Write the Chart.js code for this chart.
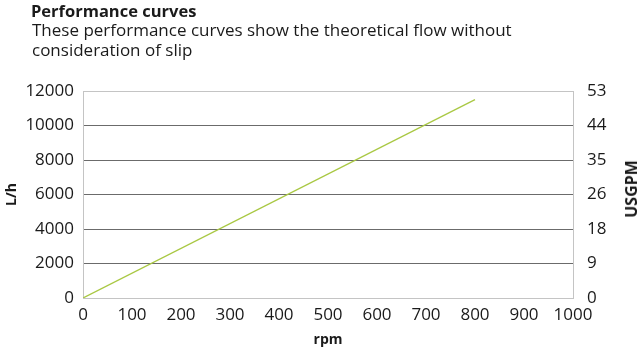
<!DOCTYPE html>
<html>
<head>
<meta charset="utf-8">
<script src="https://cdn.jsdelivr.net/npm/chart.js@4/dist/chart.umd.min.js"></script>
<style>
  html, body { margin: 0; padding: 0; background: #fff; }
  #wrap { position: relative; width: 644px; height: 351px; font-family: "Open Sans", sans-serif; color: #1a1a1a; }
  #title { position: absolute; left: 31px; top: -1px; font-size: 16.5px; font-weight: bold; }
  #sub { position: absolute; left: 32px; top: 20px; font-size: 17px; line-height: 20px; width: 560px; }
  #usgpm { position: absolute; left: 631px; top: 189px; font-size: 16px; font-weight: bold;
           transform: translate(-50%, -50%) rotate(-90deg); white-space: nowrap; }
  canvas { position: absolute; left: 0; top: 0; }
</style>
</head>
<body>
<div id="wrap">
  <canvas id="myChart" width="644" height="351"></canvas>
  <div id="title">Performance curves</div>
  <div id="sub">These performance curves show the theoretical flow without<br>consideration of slip</div>
  <div id="usgpm">USGPM</div>
</div>
<script>
"strict mode";

// values
const rpm = [0, 800];
const flowLh = [0, 11500];
const rpmTicks = [0, 100, 200, 300, 400, 500, 600, 700, 800, 900, 1000];
const lhTicks = [0, 2000, 4000, 6000, 8000, 10000, 12000];
const usgpmTicks = [0, 9, 18, 26, 35, 44, 53];

const textColor = "#1a1a1a";
const frameColor = "#c4c4c4";
const gridColor = "#6b6b6b";
const tickFont = { family: "Open Sans", size: 17 };
const titleFont = { family: "Open Sans", size: 14, weight: "bold" };

const points = rpm.map((r, i) => ({ x: r, y: flowLh[i] }));

const canvas = document.getElementById("myChart");

const chart = new Chart(canvas, {
  type: "scatter",
  data: {
    datasets: [
      {
        data: points,
        showLine: true,
        borderColor: "#a9c843",
        borderWidth: 1.3,
        pointRadius: 0,
        yAxisID: "y",
      },
    ],
  },
  options: {
    responsive: false,
    animation: false,
    layout: { padding: { top: 91, left: 0, right: 0, bottom: 0 } },
    plugins: {
      legend: { display: false },
      tooltip: { enabled: false },
    },
    scales: {
      x: {
        type: "linear",
        min: rpmTicks[0],
        max: rpmTicks[rpmTicks.length - 1],
        afterBuildTicks: (s) => { s.ticks = rpmTicks.map((v) => ({ value: v })); },
        afterFit: (s) => { s.height = 53; },
        grid: { display: false, drawTicks: false },
        border: { color: frameColor },
        ticks: { color: textColor, font: tickFont, padding: 7, maxRotation: 0, callback: (v) => String(v) },
        title: { display: true, text: "rpm", color: textColor, font: titleFont, padding: { top: 0, bottom: 3 } },
      },
      y: {
        position: "left",
        min: lhTicks[0],
        max: lhTicks[lhTicks.length - 1],
        afterBuildTicks: (s) => { s.ticks = lhTicks.map((v) => ({ value: v })); },
        afterFit: (s) => { s.width = 83; },
        grid: {
          drawTicks: false,
          color: (c) => (c.index === 0 ? "rgba(0,0,0,0)" : c.index === lhTicks.length - 1 ? frameColor : gridColor),
        },
        border: { color: frameColor },
        ticks: { color: textColor, font: tickFont, padding: 9, callback: (v) => String(v) },
        title: { display: true, text: "L/h", color: textColor, font: titleFont, padding: { top: 4, bottom: 0 } },
      },
      y2: {
        position: "right",
        min: lhTicks[0],
        max: lhTicks[lhTicks.length - 1],
        afterBuildTicks: (s) => { s.ticks = lhTicks.map((v) => ({ value: v })); },
        afterFit: (s) => { s.width = 71; },
        grid: { display: false, drawTicks: false },
        border: { color: frameColor },
        ticks: { color: textColor, font: tickFont, padding: 14, callback: (v, i) => String(usgpmTicks[i]) },
      },
    },
  },
});
</script>
</body>
</html>
